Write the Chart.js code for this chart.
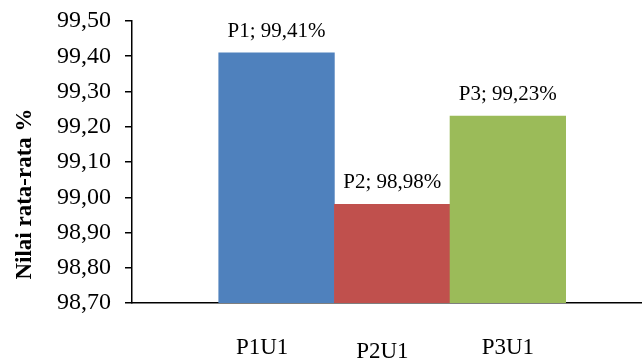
<!DOCTYPE html>
<html>
<head>
<meta charset="utf-8">
<script src="https://cdn.jsdelivr.net/npm/chart.js@4/dist/chart.umd.min.js"></script>
<style>
  html, body { margin: 0; padding: 0; background: #fff; }
  canvas { display: block; }
</style>
</head>
<body>
<canvas id="chart" width="642" height="362"></canvas>
<script>
// Data
const categories = ['P1U1', 'P2U1', 'P3U1'];
const seriesNames = ['P1', 'P2', 'P3'];
const values = [99.41, 98.98, 99.23];
const yTicks = [98.70, 98.80, 98.90, 99.00, 99.10, 99.20, 99.30, 99.40, 99.50];

// Styling
const barColors = ['#4F81BD', '#C0504D', '#9BBB59'];
const FONT = "'Liberation Serif', 'Times New Roman', serif";
// Category label placement: horizontal shift (in bar widths) and vertical drop (px)
const labelShift = [-0.125, -0.085, 0];
const labelDrop = [0, 4, 0];

const fmt = v => v.toFixed(2).replace('.', ',');

// "P1; 99,41%" style labels above each bar
const valueLabels = {
  id: 'valueLabels',
  afterDatasetsDraw(chart) {
    const { ctx } = chart;
    const meta = chart.getDatasetMeta(0);
    ctx.save();
    ctx.font = `21px ${FONT}`;
    ctx.fillStyle = '#000';
    ctx.textAlign = 'center';
    ctx.textBaseline = 'alphabetic';
    meta.data.forEach((bar, i) => {
      ctx.fillText(`${seriesNames[i]}; ${fmt(values[i])}%`, bar.x, bar.y - 16);
    });
    ctx.restore();
  }
};

// Rotated value-axis title
const yTitle = {
  id: 'yTitle',
  afterDraw(chart) {
    const { ctx, chartArea } = chart;
    ctx.save();
    ctx.translate(25, chartArea.bottom - 109);
    ctx.rotate(-Math.PI / 2);
    ctx.font = `bold 23px ${FONT}`;
    ctx.fillStyle = '#000';
    ctx.textAlign = 'center';
    ctx.textBaseline = 'middle';
    ctx.fillText('Nilai rata-rata %', 0, 0);
    ctx.restore();
  }
};

new Chart(document.getElementById('chart'), {
  type: 'bar',
  data: {
    datasets: [{
      data: values.map((v, i) => ({ x: i + 1, y: v })),
      backgroundColor: barColors,
      borderWidth: 0,
      categoryPercentage: 1,
      barPercentage: 1
    }]
  },
  options: {
    responsive: false,
    animation: false,
    devicePixelRatio: 1,
    layout: { padding: { left: 57, top: 21, right: 0, bottom: 0 } },
    plugins: {
      legend: { display: false },
      tooltip: { enabled: false }
    },
    scales: {
      x: {
        type: 'linear',
        offset: false,
        min: -0.25,
        max: 4.16,
        bounds: 'data',
        grid: { offset: false, drawOnChartArea: false, drawTicks: false },
        border: { display: true, color: '#000', width: 1.5 },
        afterBuildTicks(scale) {
          scale.ticks = categories.map((c, i) => ({ value: i + 1 + labelShift[i] }));
        },
        afterFit(scale) {
          scale.height = 59;
          scale.paddingLeft = 0;
          scale.paddingRight = 0;
        },
        ticks: {
          autoSkip: false,
          maxRotation: 0,
          padding: 37,
          color: '#000',
          callback: (v, i) => categories[i],
          font: ctx => ({ family: FONT, size: 23, lineHeight: (15 + 2 * labelDrop[ctx.index]) + 'px' })
        }
      },
      y: {
        min: 98.7,
        max: 99.5,
        afterBuildTicks(scale) {
          scale.ticks = yTicks.map(v => ({ value: v }));
        },
        afterFit(scale) {
          scale.width = 75;
          scale.paddingTop = 0;
          scale.paddingBottom = 0;
        },
        grid: { drawOnChartArea: false, drawTicks: true, tickLength: 7, color: '#000', tickColor: '#000', lineWidth: 1.5 },
        border: { display: true, color: '#000', width: 1.5 },
        ticks: {
          autoSkip: false,
          padding: 14,
          color: '#000',
          font: { family: FONT, size: 24 },
          callback: v => fmt(v)
        }
      }
    }
  },
  plugins: [valueLabels, yTitle]
});
</script>
</body>
</html>
